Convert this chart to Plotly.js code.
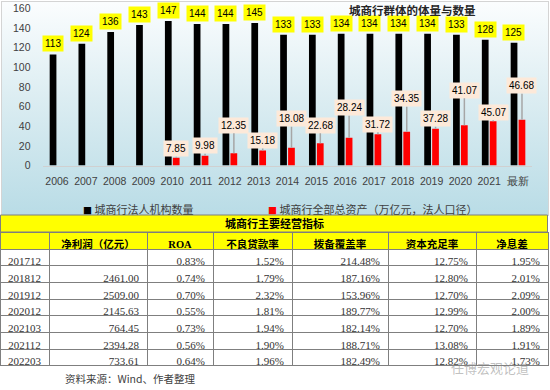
<!DOCTYPE html>
<html>
<head>
<meta charset="utf-8">
<script src="https://cdn.plot.ly/plotly-3.0.1.min.js"></script>
<style>
  html, body { margin: 0; padding: 0; background: #ffffff; }
  #wrap { position: relative; width: 550px; height: 390px; overflow: hidden; }
  #bg { position: absolute; left: 1px; top: 1px; width: 546px; height: 213px;
        border: 1px solid #d4d4d4;
        background: linear-gradient(to bottom, #fbfdfe 0%, #dcedf2 45%, #b9dce6 100%); }
  #chart { position: absolute; left: 0; top: 0; width: 550px; height: 390px; }
</style>
</head>
<body>
<div id="wrap"><div id="bg"></div><div id="chart"></div></div>
<script>
// ---- chart data ----
const categories = ['2006','2007','2008','2009','2010','2011','2012','2013','2014','2015','2016','2017','2018','2019','2020','2021','最新'];
const institutions = [113,124,136,143,147,144,144,145,133,133,134,134,134,134,133,128,125];
const assets = [null,null,null,null,7.85,9.98,12.35,15.18,18.08,22.68,28.24,31.72,34.35,37.28,41.07,45.07,46.68];
const seriesNames = ['城商行法人机构数量','城商行全部总资产（万亿元，法人口径）'];

// ---- table data ----
const tableTitle = '城商行主要经营指标';
const tableHeaders = ['', '净利润（亿元）', 'ROA', '不良贷款率', '拨备覆盖率', '资本充足率', '净息差'];
const periods = ['201712','201812','201912','202012','202103','202112','202203'];
const netProfit = [null, 2461.00, 2509.00, 2145.63, 764.45, 2394.28, 733.61];
const roa = [0.83, 0.74, 0.70, 0.55, 0.73, 0.56, 0.64];
const npl = [1.52, 1.79, 2.32, 1.81, 1.94, 1.90, 1.96];
const provision = [214.48, 187.16, 153.96, 189.77, 182.14, 188.71, 182.49];
const car = [12.75, 12.80, 12.70, 12.99, 12.70, 13.08, 12.82];
const nim = [1.95, 2.01, 2.09, 2.00, 1.89, 1.91, 1.73];
const sourceText = '资料来源：Wind、作者整理';

// ---- label placement (pixels, styling only) ----
const redLabelLift = [0,0,0,0,-9,-10,-28,-10,-29,-18,-30,-10,-33,-10,-35,-9,-34];

const W = 550, H = 390;
const px = x => x / W;
const py = y => 1 - y / H;

const traces = [
  { type: 'bar', x: categories, y: institutions, name: seriesNames[0],
    marker: { color: '#000000' }, hoverinfo: 'skip' },
  { type: 'bar', x: categories, y: assets, name: seriesNames[1],
    marker: { color: '#ff0000' }, hoverinfo: 'skip' },
  { type: 'table', domain: { x: [0, px(548)], y: [py(374), py(232)] },
    columnwidth: [49, 98, 66, 79, 96, 88, 72],
    header: { values: tableHeaders, align: 'center', height: 17,
      fill: { color: '#ffff00' }, line: { color: '#7f7f7f', width: 1 },
      font: { family: 'Liberation Serif, Noto Sans CJK SC', size: 10.5, color: '#000', weight: 'bold' } },
    cells: {
      values: [
        periods,
        netProfit.map(v => v === null ? '' : v.toFixed(2)),
        roa.map(v => v.toFixed(2) + '%'),
        npl.map(v => v.toFixed(2) + '%'),
        provision.map(v => v.toFixed(2) + '%'),
        car.map(v => v.toFixed(2) + '%'),
        nim.map(v => v.toFixed(2) + '%')
      ],
      align: ['center','right','right','right','right','right','right'],
      height: 16.7,
      fill: { color: '#ffffff' }, line: { color: '#7f7f7f', width: 1 },
      font: { family: 'Liberation Serif, Noto Sans CJK SC', size: 11, color: '#333333' } }
  }
];

const annotations = [];
categories.forEach((c, i) => {
  annotations.push({ x: i, y: institutions[i], xref: 'x', yref: 'y', text: String(institutions[i]),
    showarrow: false, xshift: -4, yshift: 2, yanchor: 'bottom', bgcolor: '#ffff00', borderpad: 2,
    font: { family: 'Liberation Sans', size: 10, color: '#000000' } });
  if (assets[i] !== null) {
    annotations.push({ x: i, y: assets[i], xref: 'x', yref: 'y', text: assets[i].toFixed(2),
      showarrow: true, arrowhead: 0, arrowwidth: 1.5, arrowcolor: '#a6a6a6', standoff: 0,
      ax: 0, ay: redLabelLift[i], xshift: 4, bgcolor: '#fde9d9', borderpad: 2,
      font: { family: 'Liberation Sans', size: 10, color: '#000000' } });
  }
});
const centered = { xanchor: 'center', yanchor: 'middle', showarrow: false, xref: 'paper', yref: 'paper' };
// chart title
annotations.push(Object.assign({}, centered, { x: px(412), y: py(10), text: '城商行群体的体量与数量',
  font: { family: 'Noto Sans CJK SC', size: 11.5, color: '#262626', weight: 'bold' } }));
// legend
annotations.push({ xref: 'paper', yref: 'paper', x: px(81), y: py(209), xanchor: 'left', yanchor: 'middle',
  text: '<span style="color:#000000;font-size:9px">■</span> ' + seriesNames[0],
  showarrow: false, font: { family: 'Noto Sans CJK SC', size: 11, color: '#404040' } });
annotations.push({ xref: 'paper', yref: 'paper', x: px(266), y: py(209), xanchor: 'left', yanchor: 'middle',
  text: '<span style="color:#ff0000;font-size:9px">■</span> ' + seriesNames[1],
  showarrow: false, font: { family: 'Noto Sans CJK SC', size: 11, color: '#404040' } });
// table title row
annotations.push(Object.assign({}, centered, { x: px(274), y: py(223.5), text: tableTitle,
  font: { family: 'Noto Sans CJK SC', size: 11, color: '#000000', weight: 'bold' } }));
// source
annotations.push(Object.assign({}, centered, { x: px(130), y: py(378), text: sourceText,
  font: { family: 'Noto Sans CJK SC, Liberation Sans', size: 10.5, color: '#404040' } }));
// watermark
annotations.push(Object.assign({}, centered, { x: px(490), y: py(367), text: '任博宏观论道',
  font: { family: 'Noto Sans CJK SC', size: 13, color: 'rgba(140,140,140,0.55)' } }));

const layout = {
  width: W, height: H,
  margin: { l: 0, r: 0, t: 0, b: 0 },
  paper_bgcolor: 'rgba(0,0,0,0)', plot_bgcolor: 'rgba(0,0,0,0)',
  showlegend: false,
  barmode: 'group', bargap: 0.45, bargroupgap: 0.15,
  xaxis: { type: 'category', domain: [px(42.6), px(532.4)], anchor: 'y', range: [-0.5, categories.length - 0.5],
    showline: true, linecolor: '#d0d0d0', linewidth: 1.5, showgrid: false, zeroline: false,
    ticks: 'outside', ticklen: 5, tickcolor: 'rgba(0,0,0,0)',
    tickfont: { family: 'Liberation Sans', size: 10.5, color: '#404040' } },
  yaxis: { domain: [py(165.5), py(8.3)], range: [0, 160], dtick: 20,
    showline: false, showgrid: false, zeroline: false,
    ticks: 'outside', ticklen: 9, tickcolor: 'rgba(0,0,0,0)',
    tickfont: { family: 'Liberation Sans', size: 10.5, color: '#404040' } },
  shapes: [
    { type: 'rect', xref: 'paper', yref: 'paper', x0: px(0.5), x1: px(547.5), y0: py(232), y1: py(215),
      fillcolor: '#ffff00', line: { color: '#7f7f7f', width: 1 } }
  ],
  annotations: annotations
};

Plotly.newPlot('chart', traces, layout, { staticPlot: true, displayModeBar: false });
</script>
</body>
</html>
